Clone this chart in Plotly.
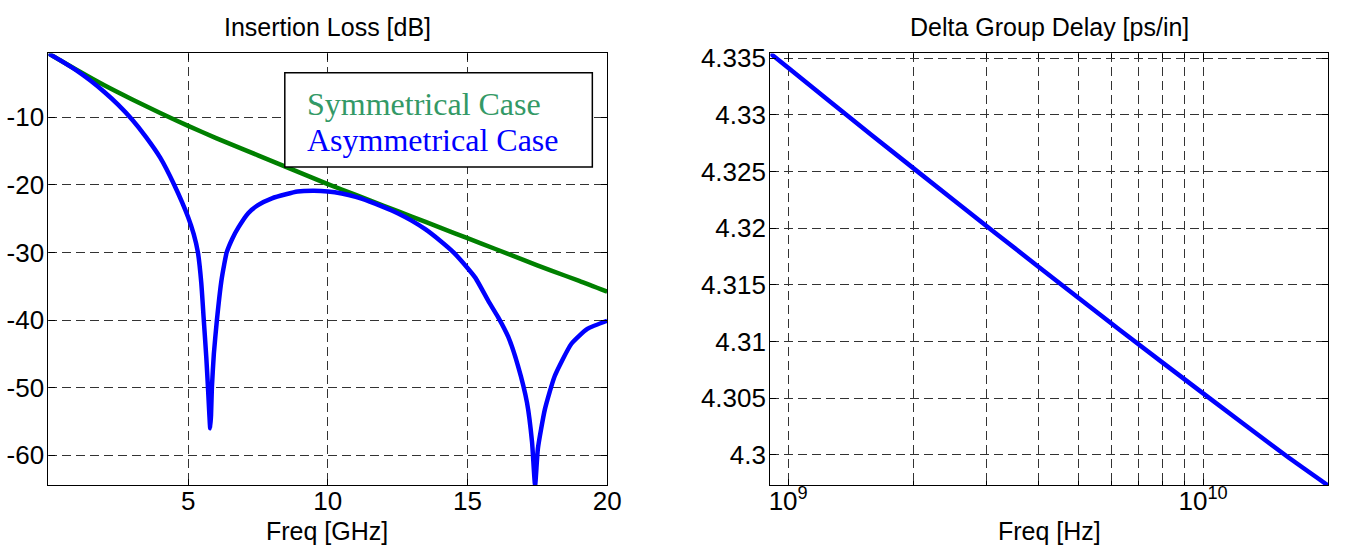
import plotly.graph_objects as go

# ---------------- data ----------------
# Insertion loss (left panel)
sym_freq_ghz = [0.0, 1, 2, 3, 4, 5, 6, 7, 8, 9, 10, 11, 12, 13, 14, 15, 16, 17, 18, 19, 20]
sym_loss_db = [-0.6, -3.0, -5.3, -7.4, -9.4, -11.3, -13.1, -14.8, -16.5, -18.2, -19.9,
               -21.5, -23.1, -24.7, -26.3, -27.9, -29.5, -31.1, -32.7, -34.2, -35.8]

asym_freq_ghz = [0.0, 0.5, 1.0, 1.5, 2.0, 2.5, 3.0, 3.5, 4.0, 4.5, 5.0, 5.2, 5.35, 5.47, 5.56,
                 5.65, 5.71, 5.76, 5.79, 5.82, 5.85, 5.92, 6.03, 6.19, 6.29, 6.38, 6.59, 6.8,
                 7.15, 7.5, 8.0, 8.5, 8.92, 9.5, 10.0, 10.5, 11.0, 11.5, 12.0, 12.5, 13.0,
                 13.5, 14.0, 14.5, 15.0, 15.29, 15.75, 16.1, 16.46, 16.81, 17.13, 17.31,
                 17.42, 17.52, 17.77, 18.12, 18.72, 19.29, 20.0]
asym_loss_db = [-0.6, -1.8, -3.1, -4.6, -6.3, -8.2, -10.4, -13.0, -16.0, -20.0, -24.8, -27.3,
                -30.0, -34.5, -40.0, -45.5, -50.0, -54.0, -56.0, -54.0, -50.0, -45.0, -40.0,
                -34.2, -31.8, -30.0, -27.9, -26.3, -24.2, -23.0, -22.0, -21.4, -21.0, -20.9,
                -21.0, -21.3, -21.8, -22.5, -23.3, -24.2, -25.3, -26.6, -28.2, -30.0, -32.3,
                -33.8, -37.2, -39.6, -42.5, -46.8, -52.2, -58.0, -64.4, -59.0, -53.2, -48.3,
                -43.5, -41.3, -40.1]

# Delta group delay (right panel)
gd_freq_hz = [9.06e8, 1.0e9, 1.585e9, 2.512e9, 3.981e9, 6.31e9, 1.0e10, 1.585e10, 2.0e10]
gd_delay = [4.33543, 4.33416, 4.32826, 4.32245, 4.31669, 4.31100, 4.30542, 4.29991, 4.29729]

il_ticks = [-60, -50, -40, -30, -20, -10]
il_ticktext = ["-60", "-50", "-40", "-30", "-20", "-10"]
f_ticks = [5, 10, 15, 20]

gd_yticks = [4.3, 4.305, 4.31, 4.315, 4.32, 4.325, 4.33, 4.335]
gd_yticktext = ["4.3", "4.305", "4.31", "4.315", "4.32", "4.325", "4.33", "4.335"]
gd_xticks = [1e9, 1e10]
gd_xticktext = ["10<sup>9</sup>", "10<sup>10</sup>"]
gd_xminor = [2e9, 3e9, 4e9, 5e9, 6e9, 7e9, 8e9, 9e9, 2e10]

# ---------------- figure ----------------
FONT = "Liberation Sans, Arial, sans-serif"
W, H = 1346, 550
GRID = dict(gridcolor="#333333", gridwidth=1, griddash="9px,5px")

fig = go.Figure()
fig.add_trace(go.Scatter(x=sym_freq_ghz, y=sym_loss_db, mode="lines",
                         line=dict(color="#008000", width=4.5, shape="spline", smoothing=0.6),
                         xaxis="x", yaxis="y", showlegend=False))
fig.add_trace(go.Scatter(x=asym_freq_ghz, y=asym_loss_db, mode="lines",
                         line=dict(color="#0000ff", width=4.5, shape="spline", smoothing=0.5),
                         xaxis="x", yaxis="y", showlegend=False))
fig.add_trace(go.Scatter(x=gd_freq_hz, y=gd_delay, mode="lines",
                         line=dict(color="#0000ff", width=4.5, shape="spline", smoothing=0.6),
                         xaxis="x2", yaxis="y2", showlegend=False))

ax_common = dict(showline=True, linecolor="black", linewidth=1.3, mirror="ticks",
                 ticks="inside", ticklen=6, tickcolor="black", showgrid=True, **GRID,
                 zeroline=False, tickfont=dict(family=FONT, size=26, color="black"))

ydom = [1 - 484.3 / H, 1 - 44.3 / H]
fig.update_layout(
    width=W, height=H,
    margin=dict(l=0, r=0, t=0, b=0),
    paper_bgcolor="white", plot_bgcolor="white",
    xaxis=dict(domain=[48 / W, 613 / W], range=[0, 20], tickvals=f_ticks, anchor="y",
               ticklabelstandoff=-8, **ax_common),
    yaxis=dict(domain=ydom, range=[-64.45, -0.6], tickvals=il_ticks, ticktext=il_ticktext,
               anchor="x", ticklabelstandoff=-2, **ax_common),
    xaxis2=dict(domain=[778 / W, 1342 / W], type="log", range=[8.957, 10.301],
                tickvals=gd_xticks, ticktext=gd_xticktext, anchor="y2",
                ticklabelstandoff=-8,
                minor=dict(tickvals=gd_xminor, ticks="inside", ticklen=4, tickcolor="black",
                           showgrid=True, **GRID),
                **ax_common),
    yaxis2=dict(domain=ydom, range=[4.29729, 4.33543], tickvals=gd_yticks, ticktext=gd_yticktext,
                anchor="x2", ticklabelstandoff=-2, **ax_common),
)

# legend box (MATLAB-style text legend)
fig.add_shape(type="rect", xref="paper", yref="paper",
              x0=287 / W, x1=598 / W, y0=1 - 160 / H, y1=1 - 64 / H,
              line=dict(color="black", width=1.5), fillcolor="white", layer="above")
fig.add_annotation(text="Symmetrical Case", xref="paper", yref="paper",
                   x=307 / W, y=1 - 96 / H, xanchor="left", yanchor="middle", showarrow=False,
                   font=dict(family="Liberation Serif, Times New Roman, serif", size=32, color="#339966"))
fig.add_annotation(text="Asymmetrical Case", xref="paper", yref="paper",
                   x=307 / W, y=1 - 132 / H, xanchor="left", yanchor="middle", showarrow=False,
                   font=dict(family="Liberation Serif, Times New Roman, serif", size=32, color="#0000ff"))

# titles and axis labels
for txt, xc, yc in [("Insertion Loss [dB]", 330, 17), ("Delta Group Delay [ps/in]", 1060, 17),
                    ("Freq [GHz]", 330, 531), ("Freq [Hz]", 1060, 531)]:
    fig.add_annotation(text=txt, xref="paper", yref="paper", x=xc / W, y=1 - yc / H,
                       xanchor="center", yanchor="middle", showarrow=False,
                       font=dict(family=FONT, size=25, color="black"))

fig.write_html("out.html", config={"displayModeBar": False},
               post_script="document.body.style.margin='0';document.body.style.overflow='hidden';")
